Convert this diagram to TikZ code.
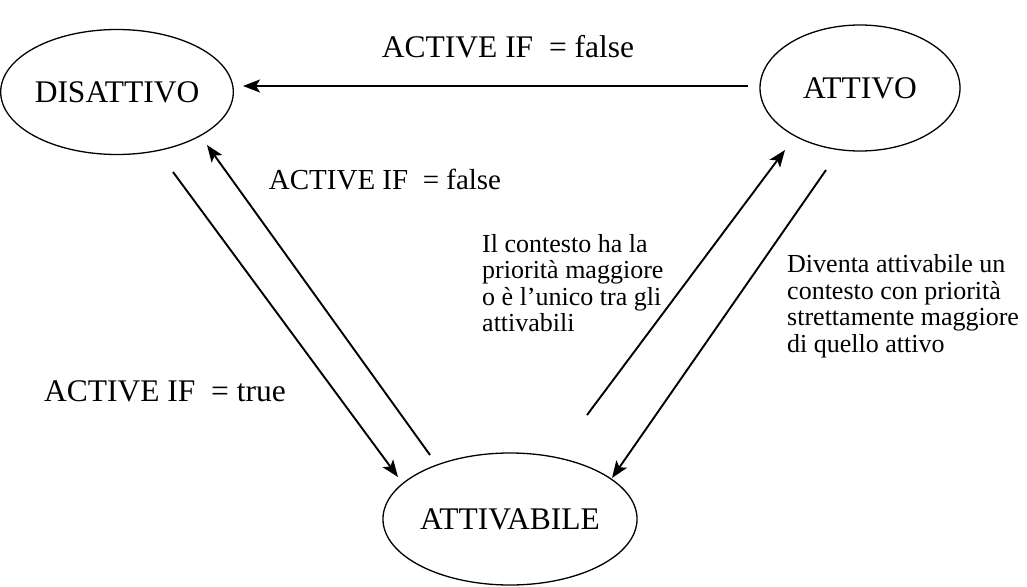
\documentclass[tikz,border=0pt]{standalone}
\usepackage{fontspec}
\setmainfont{Liberation Serif}
\usetikzlibrary{arrows.meta,shapes.geometric}
\begin{document}
\begin{tikzpicture}[x=1pt,y=-1pt,
  state/.style={draw,ellipse,line width=1.3pt,inner sep=0pt,font=\fontsize{31.5}{34}\selectfont},
  arr/.style={line width=1.9pt,-{Stealth[length=17pt,width=13pt,inset=4pt]}},
  big/.style={font=\fontsize{31.5}{34}\selectfont,inner sep=0pt},
  mid/.style={font=\fontsize{29}{34}\selectfont,inner sep=0pt},
  small/.style={font=\fontsize{26}{26.5}\selectfont,align=left,inner sep=0pt,anchor=west}]
\useasboundingbox (0,0) rectangle (1027,586);
\node[state,minimum width=220pt,minimum height=125pt] (dis) at (117,92) {DISATTIVO};
\node[state,minimum width=200pt,minimum height=126pt] (att) at (860,88) {ATTIVO};
\node[state,minimum width=224pt,minimum height=132pt] (atb) at (510,519) {ATTIVABILE};
\draw[arr] ([shift={(-112,-2)}]att.center) -- ([shift={(126,-6)}]dis.center);
\draw[arr] ([shift={(56,80)}]dis.center) -- ([shift={(-112,-42)}]atb.center);
\draw[arr] ([shift={(-80,-64)}]atb.center) -- ([shift={(90,53)}]dis.center);
\draw[arr] ([shift={(77,-104)}]atb.center) -- ([shift={(-75,62)}]att.center);
\draw[arr] ([shift={(-34,82)}]att.center) -- ([shift={(102,-41)}]atb.center);
\node[big] (l1) at (508,47) {ACTIVE IF\ \ = false};
\node[mid] (l2) at (385,180) {ACTIVE IF\ \ = false};
\node[big] (l3) at (165,391) {ACTIVE IF\ \ = true};
\node[small] (l4) at (482,283) {Il contesto ha la\\priorità maggiore\\o è l’unico tra gli\\attivabili};
\node[small] (l5) at (787,306) {Diventa attivabile un\\contesto con priorità\\strettamente maggiore\\di quello attivo};
\end{tikzpicture}
\end{document}
